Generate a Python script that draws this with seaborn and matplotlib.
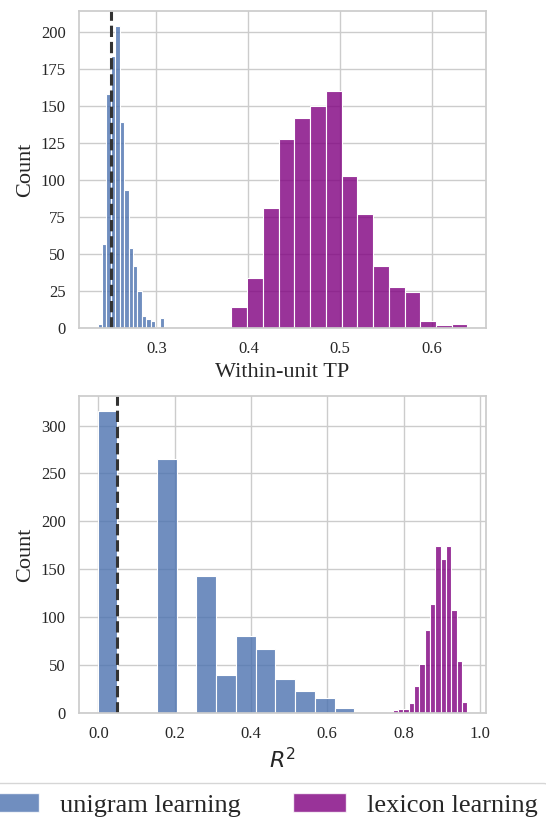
import numpy as np
import pandas as pd
import matplotlib

matplotlib.use("Agg")
import matplotlib.pyplot as plt
import seaborn as sns
from matplotlib.patches import Patch

# --- top panel: within-unit TP ---
tp_unigram_range = (0.2358, 0.3082)
tp_unigram_counts = [3, 57, 158, 184, 204, 139, 93, 54, 42, 25, 8, 6, 5, 1, 7]
tp_lexicon_range = (0.3816, 0.6385)
tp_lexicon_counts = [14, 34, 81, 128, 142, 150, 160, 103, 77, 42, 28, 24, 5, 2, 3]
tp_baseline = 0.25

# --- bottom panel: R^2 ---
r2_unigram_range = (-0.002, 0.671)
r2_unigram_counts = [315, 0, 0, 265, 0, 143, 40, 80, 67, 36, 23, 16, 5]
r2_lexicon_range = (0.757, 0.9675)
r2_lexicon_counts = [1, 3, 4, 4, 10, 28, 51, 87, 114, 174, 161, 174, 108, 54, 12]
r2_baseline = 0.05

labels = ["unigram learning", "lexicon learning"]
colors = ["#4c72b0", "purple"]


def hist_frame(value_range, counts):
    edges = np.linspace(value_range[0], value_range[1], len(counts) + 1)
    centers = (edges[:-1] + edges[1:]) / 2
    df = pd.DataFrame({"value": centers, "count": counts})
    return df[df["count"] > 0], edges.tolist()


sns.set_theme(style="whitegrid")
plt.rcParams["font.family"] = ["Liberation Serif", "DejaVu Serif"]
plt.rcParams["mathtext.fontset"] = "dejavusans"

fig = plt.figure(figsize=(5.46, 8.19), dpi=100)
ax_top = fig.add_axes([0.1447, 0.5995, 0.7454, 0.387])
ax_bot = fig.add_axes([0.1447, 0.1294, 0.7454, 0.387])

panels = [
    (ax_top, [tp_unigram_range, tp_lexicon_range], [tp_unigram_counts, tp_lexicon_counts], tp_baseline, "Within-unit TP"),
    (ax_bot, [r2_unigram_range, r2_lexicon_range], [r2_unigram_counts, r2_lexicon_counts], r2_baseline, "$R^2$"),
]

for ax, ranges, counts_list, baseline, xlabel in panels:
    for rng, counts, color in zip(ranges, counts_list, colors):
        df, edges = hist_frame(rng, counts)
        sns.histplot(data=df, x="value", weights="count", bins=edges, color=color,
                     alpha=0.8, edgecolor="white", linewidth=0.8, ax=ax)
    ax.axvline(baseline, color="#333333", linestyle="--", linewidth=2.2)
    ax.set_xlabel(xlabel, fontsize=16)
    ax.set_ylabel("Count", fontsize=16)
    ax.tick_params(axis="both", labelsize=12)

ax_top.set_xticks([0.3, 0.4, 0.5, 0.6])

handles = [Patch(facecolor=c, alpha=0.8, edgecolor="white") for c in colors]
fig.legend(handles, labels, loc="center", bbox_to_anchor=(0.48, 0.017), ncol=2,
           fontsize=19, frameon=True, columnspacing=2.0)

fig.savefig("out.png", dpi=100)
plt.close(fig)
